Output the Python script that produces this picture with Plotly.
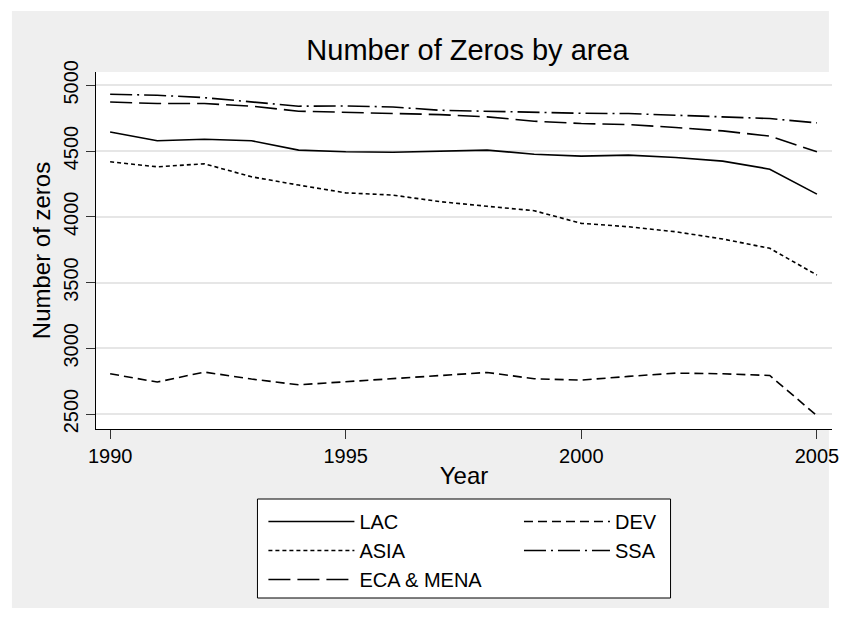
import plotly.graph_objects as go

years = list(range(1990, 2006))
lac = [4645, 4578, 4590, 4578, 4507, 4494, 4491, 4501, 4507, 4476, 4461, 4469, 4451, 4423, 4362, 4172]
dev = [2806, 2743, 2819, 2766, 2722, 2745, 2768, 2791, 2816, 2768, 2758, 2786, 2811, 2806, 2793, 2487]
asia = [4418, 4380, 4403, 4304, 4241, 4182, 4165, 4115, 4080, 4046, 3950, 3924, 3886, 3831, 3760, 3557]
ssa = [4932, 4924, 4906, 4873, 4841, 4843, 4835, 4810, 4803, 4792, 4787, 4785, 4772, 4760, 4747, 4714]
eca = [4873, 4861, 4861, 4841, 4803, 4795, 4785, 4777, 4760, 4727, 4709, 4701, 4679, 4653, 4613, 4494]

y_ticks = [2500, 3000, 3500, 4000, 4500, 5000]
x_ticks = [1990, 1995, 2000, 2005]

# name, values, dash, legend column
series = [
    ("LAC", lac, "solid", "legend"),
    ("DEV", dev, "9px,5px", "legend2"),
    ("ASIA", asia, "4px,3px", "legend"),
    ("SSA", ssa, "22px,5px,2px,5px", "legend2"),
    ("ECA & MENA", eca, "22px,7px", "legend"),
]

FONT = "Liberation Sans, Arial, sans-serif"
W, H = 847, 619
L, R, T, B = 96, 8, 72, 190
pw = W - L - R
ph = H - T - B


def px_x(v):
    return (v - L) / pw


def px_y(v):
    return (H - B - v) / ph


fig = go.Figure()
for name, vals, dash, leg in series:
    fig.add_trace(go.Scatter(
        x=years, y=vals, mode="lines", name=name, legend=leg,
        line=dict(color="black", width=1.6, dash=dash),
    ))

# white outer frame like the Stata export
fig.add_shape(type="rect", xref="paper", yref="paper",
              x0=px_x(0), x1=px_x(W), y0=px_y(H), y1=px_y(0),
              line=dict(color="white", width=22), layer="below")
# legend box
fig.add_shape(type="rect", xref="paper", yref="paper",
              x0=px_x(259), x1=px_x(676), y0=px_y(598), y1=px_y(499),
              line=dict(color="black", width=1), fillcolor="white", layer="above")

leg_common = dict(bgcolor="rgba(0,0,0,0)", borderwidth=0, itemwidth=86,
                  font=dict(size=20), yanchor="top", xanchor="left",
                  traceorder="normal")

fig.update_layout(
    width=W, height=H,
    margin=dict(l=L, r=R, t=T, b=B),
    paper_bgcolor="#efefef",
    plot_bgcolor="white",
    font=dict(family=FONT, size=20, color="black"),
    title=dict(text="Number of Zeros by area", x=(L + pw / 2) / W, xanchor="center",
               y=1 - 50 / H, yanchor="middle", font=dict(size=29)),
    xaxis=dict(
        range=[1989.70, 2005.32], tickvals=x_ticks, showgrid=False, zeroline=False,
        showline=True, linecolor="black", linewidth=1.2,
        ticks="outside", ticklen=9, tickcolor="#333", tickwidth=1,
        title=dict(text="Year", standoff=1),
    ),
    yaxis=dict(
        range=[2386, 5101], tickvals=y_ticks, tickangle=-90,
        showgrid=True, gridcolor="#e6e6e6", gridwidth=1.5, zeroline=False,
        showline=True, linecolor="black", linewidth=1.2,
        ticks="outside", ticklen=9, tickcolor="#333", tickwidth=1,
        title=dict(text="Number of zeros", standoff=2),
    ),
    legend=dict(x=px_x(265), y=px_y(502), **leg_common),
    legend2=dict(x=px_x(523), y=px_y(502), **leg_common),
    showlegend=True,
)

fig.write_html(
    "out.html",
    config={"displayModeBar": False},
    post_script="document.body.style.margin='0';document.body.style.overflow='hidden';",
)
